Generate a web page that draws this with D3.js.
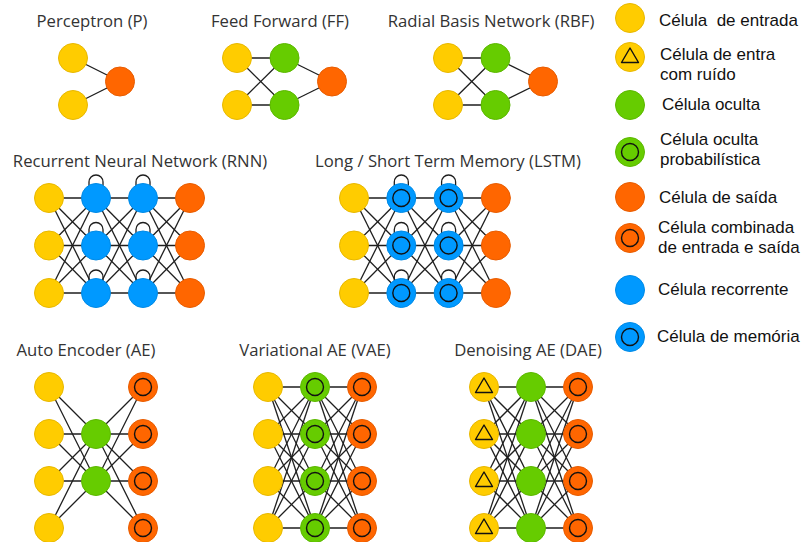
<!DOCTYPE html>
<html>
<head>
<meta charset="utf-8">
<script src="https://cdn.jsdelivr.net/npm/d3@7"></script>
<style>
  body { margin: 0; background: #fff; }
  svg { display: block; }
</style>
</head>
<body>
<svg width="804" height="542"></svg>
<script>
"use strict";

// Network titles
var networkNames = [
    "Perceptron (P)", "Feed Forward (FF)", "Radial Basis Network (RBF)",
    "Recurrent Neural Network (RNN)", "Long / Short Term Memory (LSTM)",
    "Auto Encoder (AE)", "Variational AE (VAE)", "Denoising AE (DAE)"
];

// Layers of each network: [cell type, number of cells]
var networkLayers = [
    [["input", 2], ["output", 1]],
    [["input", 2], ["hidden", 2], ["output", 1]],
    [["input", 2], ["hidden", 2], ["output", 1]],
    [["input", 3], ["recurrent", 3], ["recurrent", 3], ["output", 3]],
    [["input", 3], ["memory", 3], ["memory", 3], ["output", 3]],
    [["input", 4], ["hidden", 2], ["match", 4]],
    [["input", 4], ["prob", 4], ["match", 4]],
    [["noisy", 4], ["hidden", 4], ["match", 4]]
];

// Legend
var legendTypes = ["input", "noisy", "hidden", "prob", "output", "match", "recurrent", "memory"];
var legendLabels = [
    ["Célula  de entrada"],
    ["Célula de entra", "com ruído"],
    ["Célula oculta"],
    ["Célula oculta", "probabilística"],
    ["Célula de saída"],
    ["Célula combinada", "de entrada e saída"],
    ["Célula recorrente"],
    ["Célula de memória"]
];

// ---- layout ----
var colors = {
    input: "#ffcc00", noisy: "#ffcc00", hidden: "#66cc00", prob: "#66cc00",
    output: "#ff6600", match: "#ff6600", recurrent: "#0099ff", memory: "#0099ff"
};
var strokes = {
    input: "#e8b800", noisy: "#e8b800", hidden: "#5cb800", prob: "#5cb800",
    output: "#e85c00", match: "#e85c00", recurrent: "#008ae6", memory: "#008ae6"
};
var R = 14.5;

// per network: first column x, first row y, column step, row step, title x, title baseline
var frames = [
    { x: 73,  y: 58,  dx: 47,   dy: 47,   tx: 92,  ty: 27 },
    { x: 237, y: 58,  dx: 47.5, dy: 47,   tx: 280, ty: 27 },
    { x: 448, y: 58,  dx: 47.5, dy: 47,   tx: 491, ty: 27 },
    { x: 49,  y: 198, dx: 47,   dy: 47.5, tx: 140, ty: 167 },
    { x: 354, y: 198, dx: 47.3, dy: 47.5, tx: 448, ty: 167 },
    { x: 49,  y: 387, dx: 47,   dy: 47,   tx: 86,  ty: 356 },
    { x: 268, y: 387, dx: 47,   dy: 47,   tx: 315, ty: 356 },
    { x: 484, y: 387, dx: 47,   dy: 47,   tx: 528, ty: 356 }
];

var svg = d3.select("svg");

// Draw one cell
var drawCell = function(g, type, cx, cy) {
    g.append("circle")
        .attr("cx", cx)
        .attr("cy", cy)
        .attr("r", R)
        .attr("fill", colors[type])
        .attr("stroke", strokes[type])
        .attr("stroke-width", 1);

    if (type === "prob" || type === "match" || type === "memory") {
        g.append("circle")
            .attr("cx", cx)
            .attr("cy", cy)
            .attr("r", 8.5)
            .attr("fill", "none")
            .attr("stroke", "#111")
            .attr("stroke-width", 1.4);
    }
    if (type === "noisy") {
        g.append("path")
            .attr("d", d3.line()([[cx, cy - 9], [cx - 8.5, cy + 5.5], [cx + 8.5, cy + 5.5]]) + "Z")
            .attr("fill", "none")
            .attr("stroke", "#111")
            .attr("stroke-width", 1.4)
            .attr("stroke-linejoin", "round");
    }
};

// Draw networks
networkLayers.forEach(function(layers, i) {
    var f = frames[i];
    var maxN = d3.max(layers, function(l) { return l[1]; });

    var xScale = d3.scaleLinear()
        .domain([0, layers.length - 1])
        .range([f.x, f.x + f.dx * (layers.length - 1)]);
    var yScale = d3.scaleLinear()
        .domain([0, maxN - 1])
        .range([f.y, f.y + f.dy * (maxN - 1)]);

    var g = svg.append("g").attr("class", "net");

    // Cell positions
    var cells = layers.map(function(l, li) {
        var off = (maxN - l[1]) / 2;
        return d3.range(l[1]).map(function(k) {
            return { type: l[0], x: xScale(li), y: yScale(k + off) };
        });
    });

    // Connections between consecutive layers
    var links = [];
    for (var li = 0; li < cells.length - 1; li++) {
        cells[li].forEach(function(a) {
            cells[li + 1].forEach(function(b) {
                links.push([a, b]);
            });
        });
    }
    g.append("g")
        .selectAll("line")
        .data(links)
        .enter().append("line")
            .attr("x1", function(d) { return d[0].x; })
            .attr("y1", function(d) { return d[0].y; })
            .attr("x2", function(d) { return d[1].x; })
            .attr("y2", function(d) { return d[1].y; })
            .attr("stroke", "#1e1e1e")
            .attr("stroke-width", 1.3);

    // Self loops for recurrent / memory cells
    cells.forEach(function(col) {
        col.forEach(function(c) {
            if (c.type === "recurrent" || c.type === "memory") {
                var p = d3.path();
                p.moveTo(c.x - 7, c.y - 10);
                p.lineTo(c.x - 7, c.y - 16);
                p.arc(c.x, c.y - 16, 7, Math.PI, 0);
                p.lineTo(c.x + 7, c.y - 10);
                g.append("path")
                    .attr("d", p.toString())
                    .attr("fill", "none")
                    .attr("stroke", "#1e1e1e")
                    .attr("stroke-width", 1.3);
            }
        });
    });

    cells.forEach(function(col) {
        col.forEach(function(c) { drawCell(g, c.type, c.x, c.y); });
    });

    // Title
    svg.append("text")
        .attr("x", f.tx)
        .attr("y", f.ty)
        .attr("text-anchor", "middle")
        .style("font-family", "'Open Sans', sans-serif")
        .style("font-size", "16.7px")
        .style("fill", "#333")
        .text(networkNames[i]);
});

// Legend
var legendY = [18, 57, 105, 152, 197, 238, 290, 337];
var legendTextX = [659, 660, 662, 660, 659, 658, 658, 657];
var legendBase = [26, 60, 110, 145, 203, 233, 295, 342];

var legend = svg.append("g").attr("class", "legend");
legendTypes.forEach(function(t, i) {
    drawCell(legend, t, 630, legendY[i]);
    legendLabels[i].forEach(function(s, k) {
        legend.append("text")
            .attr("x", legendTextX[i])
            .attr("y", legendBase[i] + k * 19.5)
            .style("font-family", "'Liberation Sans', Arial, sans-serif")
            .style("font-size", "17px")
            .style("white-space", "pre")
            .style("fill", "#111")
            .text(s);
    });
});
</script>
</body>
</html>
